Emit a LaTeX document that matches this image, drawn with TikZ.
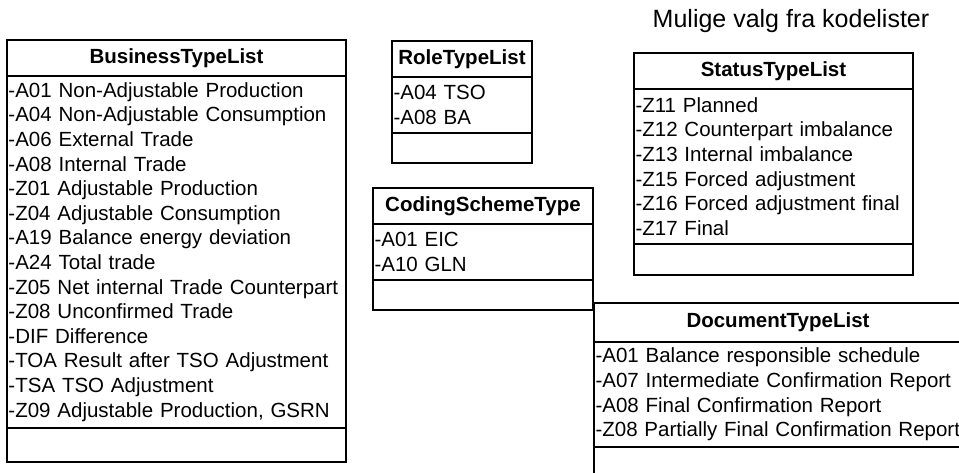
\documentclass[tikz,border=0pt]{standalone}
\usepackage{fontspec}
\setmainfont{Liberation Sans}
\newcommand{\umlfont}{\fontsize{20.5pt}{24.6pt}\selectfont}
\newcommand{\titlefont}{\fontsize{25pt}{29pt}\selectfont}
\begin{document}
\begin{tikzpicture}[x=1pt,y=-1pt,line width=1.3pt,
    classname/.style={draw, anchor=north west, inner sep=0pt, outer sep=0pt, font=\umlfont\bfseries},
    classattr/.style={draw, anchor=north west, inner xsep=1.5pt, inner ysep=0pt, outer sep=0pt, align=left, font=\umlfont},
    classops/.style={draw, anchor=north west, inner sep=0pt, outer sep=0pt}]
            \useasboundingbox (0,0) rectangle (959,473);
            \clip (0,0) rectangle (959,473);

            \node[font=\titlefont] (title) at (791,21) {Mulige valg fra kodelister};

            % BusinessTypeList
            \node[classname, minimum width=339pt, minimum height=36pt] (business) at (7,40) {BusinessTypeList};
            \node[classattr, text width=336pt, minimum height=352pt] (businessattr) at (business.south west) {-A01 Non-Adjustable Production\\-A04 Non-Adjustable Consumption\\-A06 External Trade\\-A08 Internal Trade\\-Z01 Adjustable Production\\-Z04 Adjustable Consumption\\-A19 Balance energy deviation\\-A24 Total trade\\-Z05 Net internal Trade Counterpart\\-Z08 Unconfirmed Trade\\-DIF Difference\\-TOA Result after TSO Adjustment\\-TSA TSO Adjustment\\-Z09 Adjustable Production, GSRN};
            \node[classops, minimum width=339pt, minimum height=34pt] (businessops) at (businessattr.south west) {};

            % RoleTypeList
            \node[classname, minimum width=140pt, minimum height=36pt] (role) at (392,41) {RoleTypeList};
            \node[classattr, text width=137pt, minimum height=56pt] (roleattr) at (role.south west) {-A04 TSO\\-A08 BA};
            \node[classops, minimum width=140pt, minimum height=30pt] (roleops) at (roleattr.south west) {};

            % CodingSchemeType
            \node[classname, minimum width=220pt, minimum height=36pt] (coding) at (373,188) {CodingSchemeType};
            \node[classattr, text width=217pt, minimum height=56pt] (codingattr) at (coding.south west) {-A01 EIC\\-A10 GLN};
            \node[classops, minimum width=220pt, minimum height=30pt] (codingops) at (codingattr.south west) {};

            % StatusTypeList
            \node[classname, minimum width=279pt, minimum height=36pt] (status) at (634,53) {StatusTypeList};
            \node[classattr, text width=276pt, minimum height=155pt] (statusattr) at (status.south west) {-Z11 Planned\\-Z12 Counterpart imbalance\\-Z13 Internal imbalance\\-Z15 Forced adjustment\\-Z16 Forced adjustment final\\-Z17 Final};
            \node[classops, minimum width=279pt, minimum height=31pt] (statusops) at (statusattr.south west) {};

            % DocumentTypeList
            \node[classname, minimum width=368pt, minimum height=39pt] (document) at (594,303) {DocumentTypeList};
            \node[classattr, text width=365pt, minimum height=105pt] (documentattr) at (document.south west) {-A01 Balance responsible schedule\\-A07 Intermediate Confirmation Report\\-A08 Final Confirmation Report\\-Z08 Partially Final Confirmation Report};
            \node[classops, minimum width=368pt, minimum height=34pt] (documentops) at (documentattr.south west) {};
        \end{tikzpicture}
\end{document}
